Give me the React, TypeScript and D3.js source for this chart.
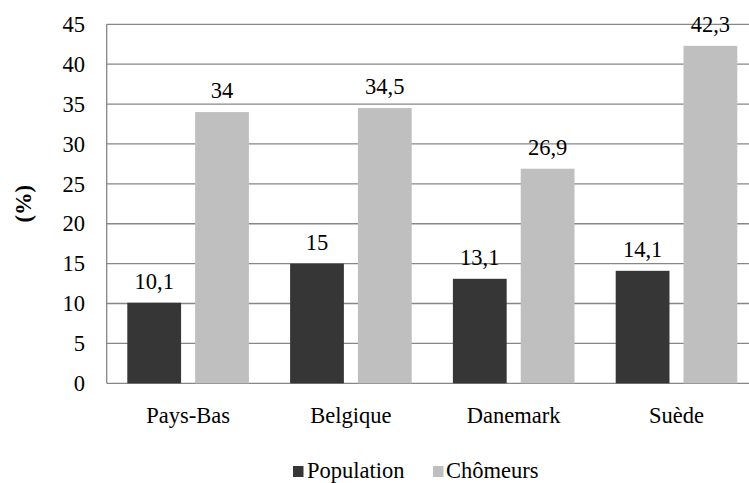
import React from "react";
import * as d3 from "d3";

const categories = ["Pays-Bas", "Belgique", "Danemark", "Suède"];
const seriesNames = ["Population", "Chômeurs"];
const population = [10.1, 15, 13.1, 14.1];
const chomeurs = [34, 34.5, 26.9, 42.3];
const yTicks = [0, 5, 10, 15, 20, 25, 30, 35, 40, 45];
const seriesColors = ["#363636", "#BFBFBF"];

const fmt = (v: number) => String(v).replace(".", ",");

export default function App() {
  const W = 749, H = 483;
  const left = 106.7, top = 24.3, bottom = 383.3;
  const step = 162.8;
  const x0 = d3.scaleBand<string>().domain(categories).range([left, left + step * categories.length]);
  const x1 = d3.scaleBand<string>().domain(seriesNames).range([20.6, step - 20.6]).paddingInner(0.207);
  const y = d3.scaleLinear().domain([0, 45]).range([bottom, top]);
  const values = [population, chomeurs];
  const font = '"Liberation Serif", "Times New Roman", Times, "DejaVu Serif", serif';
  const fs = 22.5;

  return (
    <svg width={W} height={H} style={{ position: "absolute", left: 0, top: 0, background: "#fff", fontFamily: font }}>
      {yTicks.map((t) => (
        <g key={t}>
          <line x1={left} x2={W} y1={y(t)} y2={y(t)} stroke="#878787" strokeWidth={1.3} />
          <text x={85} y={y(t)} dy="0.34em" textAnchor="end" fontSize={fs} fill="#000">{t}</text>
        </g>
      ))}
      <line x1={left} x2={left} y1={top} y2={bottom} stroke="#878787" strokeWidth={1.3} />
      {categories.map((c, i) => (
        <g key={c}>
          {seriesNames.map((s, j) => {
            const v = values[j][i];
            const bx = (x0(c) as number) + (x1(s) as number);
            return (
              <g key={s}>
                <rect x={bx} y={y(v)} width={x1.bandwidth()} height={bottom - y(v)} fill={seriesColors[j]} />
                <text x={bx + x1.bandwidth() / 2} y={y(v) - 14} textAnchor="middle" fontSize={fs} fill="#000">{fmt(v)}</text>
              </g>
            );
          })}
          <text x={(x0(c) as number) + step / 2} y={423} textAnchor="middle" fontSize={fs} fill="#000">{c}</text>
        </g>
      ))}
      <text transform={`translate(31, ${(top + bottom) / 2}) rotate(-90)`} textAnchor="middle" fontSize={fs} fontWeight="bold" fill="#000">(%)</text>
      <g>
        <rect x={293} y={466} width={10.5} height={11} fill={seriesColors[0]} />
        <text x={307} y={478} fontSize={fs} fill="#000">{seriesNames[0]}</text>
        <rect x={433} y={466} width={10.5} height={11} fill={seriesColors[1]} />
        <text x={446} y={478} fontSize={fs} fill="#000">{seriesNames[1]}</text>
      </g>
    </svg>
  );
}
